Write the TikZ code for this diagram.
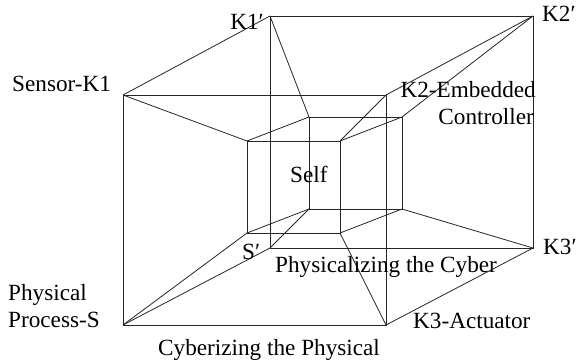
\documentclass[tikz,border=0pt]{standalone}
\usepackage{fontspec}
\setmainfont{Liberation Serif}
\begin{document}
\begin{tikzpicture}[x=1pt,y=-1pt,
  edge/.style={line width=0.8pt, draw=black!85},
  lbl/.style={inner sep=0pt, font=\fontsize{23.2}{27}\selectfont}]
\useasboundingbox (0,0) rectangle (580,363);
% big cube, back face
\coordinate (K1p) at (270,16);
\coordinate (K2p) at (533,16);
\coordinate (K3p) at (533,248);
\coordinate (Sp)  at (270,248);
% big cube, front face
\coordinate (K1) at (123,95);
\coordinate (K2) at (386,95);
\coordinate (K3) at (386,325);
\coordinate (S)  at (123,325);
% small cube, front face
\coordinate (a1) at (247,141);
\coordinate (a2) at (340,141);
\coordinate (a3) at (340,233);
\coordinate (a4) at (247,233);
% small cube, back face
\coordinate (b1) at (309,117);
\coordinate (b2) at (402,117);
\coordinate (b3) at (402,209);
\coordinate (b4) at (309,209);

\draw[edge] (K1p) -- (K2p) -- (K3p) -- (Sp) -- cycle;
\draw[edge] (K1) -- (K2) -- (K3) -- (S) -- cycle;
\draw[edge] (a1) -- (a2) -- (a3) -- (a4) -- cycle;
\draw[edge] (b1) -- (b2) -- (b3) -- (b4) -- cycle;
\draw[edge] (K1) -- (K1p) (K2) -- (K2p) (K3) -- (K3p) (S) -- (Sp);
\draw[edge] (a1) -- (b1) (a2) -- (b2) (a3) -- (b3) (a4) -- (b4);
\draw[edge] (K1) -- (a1) (K2) -- (a2) (K3) -- (a3) (S) -- (a4);
\draw[edge] (K1p) -- (b1) (K2p) -- (b2) (K3p) -- (b3) (Sp) -- (b4);

\node[lbl, anchor=base east] (tK1p) at (264,30) {K1′};
\node[lbl, anchor=base west] (tK2p) at (542,22) {K2′};
\node[lbl, anchor=base west] (tK1) at (12,92) {Sensor-K1};
\node[lbl, anchor=base east] (tK2a) at (536,98) {K2-Embedded};
\node[lbl, anchor=base east] (tK2b) at (534,125) {Controller};
\node[lbl, anchor=base west] (tself) at (290,183) {Self};
\node[lbl, anchor=base west] (tSp) at (242,259) {S′};
\node[lbl, anchor=base west] (tphys) at (275,272) {Physicalizing the Cyber};
\node[lbl, anchor=base west] (tK3p) at (543,254) {K3′};
\node[lbl, anchor=base west] (tS1) at (8,300) {Physical};
\node[lbl, anchor=base west] (tS2) at (8,327) {Process-S};
\node[lbl, anchor=base west] (tK3) at (413,328) {K3-Actuator};
\node[lbl, anchor=base west] (tcyb) at (158,355) {Cyberizing the Physical};
\end{tikzpicture}
\end{document}
